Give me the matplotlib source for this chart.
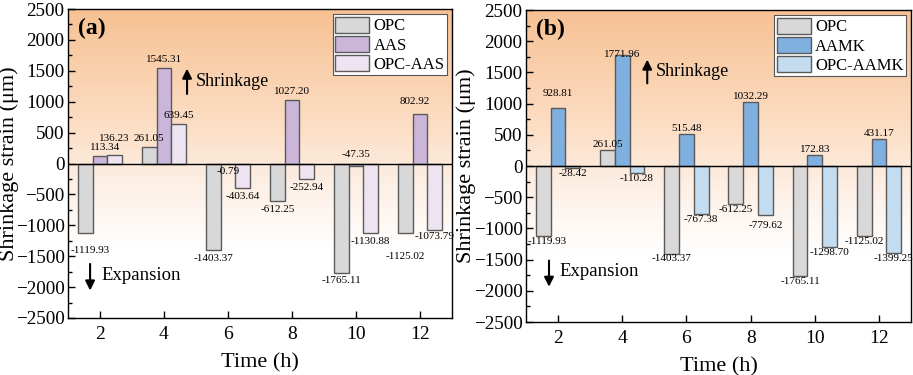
import numpy as np
import matplotlib
matplotlib.use("Agg")
import matplotlib.pyplot as plt
from matplotlib.colors import LinearSegmentedColormap

plt.rcParams['font.family'] = ['Liberation Serif', 'DejaVu Serif']
plt.rcParams['mathtext.fontset'] = 'stix'

# ---- data ----
times = [2, 4, 6, 8, 10, 12]
opc = [-1119.93, 261.05, -1403.37, -612.25, -1765.11, -1125.02]
aas = [113.34, 1545.31, -0.79, 1027.20, -47.35, 802.92]
opc_aas = [136.23, 639.45, -403.64, -252.94, -1130.88, -1073.79]
aamk = [928.81, 1771.96, 515.48, 1032.29, 172.83, 431.17]
opc_aamk = [-28.42, -110.28, -767.38, -779.62, -1298.70, -1399.25]

labels_a = ['OPC', 'AAS', 'OPC-AAS']
labels_b = ['OPC', 'AAMK', 'OPC-AAMK']
yticks = [-2500, -2000, -1500, -1000, -500, 0, 500, 1000, 1500, 2000, 2500]

colors_a = ['#d8d8d8', '#cbb6da', '#ede3f1']
colors_b = ['#d8d8d8', '#7fb0e0', '#c4dcf0']

# value-label nudges (points), one (dx, dy) per bar -- layout only
nudge_a = [
    [(3.5, -7), (0, 0), (0, 0), (0, 0), (0, 0), (0, -11)],
    [(3.5, 0), (0, 0), (0, 0), (0, 0), (0, 14), (-4, 3)],
    [(0, 6), (0, 0), (0, 0), (0, 0), (0, 0), (0, 1)],
]
nudge_b = [
    [(2.5, 0), (0, 0), (0, 0), (0, 0), (0, 0), (0, 0)],
    [(0, 6.5), (0, -3), (0, 0), (0, 0), (0, 0), (0, 0)],
    [(0, 0), (0, 0), (0, 0), (0, -4), (0, 0), (0, 0)],
]

fig = plt.figure(figsize=(9.13, 3.75), dpi=100)
ax_a = fig.add_axes([0.0745, 0.152, 0.4205, 0.824])
ax_b = fig.add_axes([0.576, 0.1413, 0.422, 0.832])

grad_cmap = LinearSegmentedColormap.from_list(
    'bg', [(0.0, '#ffffff'), (0.22, '#ffffff'), (0.45, '#fdeee3'),
           (0.6, '#fce0c8'), (1.0, '#f7c193')])

width = 0.46


def draw(ax, series, labels, colors, nudges, base, panel, shr, exp_, ylx):
    grad = np.linspace(0, 1, 256).reshape(-1, 1)
    ax.imshow(grad, extent=[1, 13, -2500, 2500], origin='lower',
              cmap=grad_cmap, aspect='auto', zorder=0)
    x = np.array(times, dtype=float)
    offsets = [-width, 0, width]
    for vals, lab, col, off, nud in zip(series, labels, colors, offsets,
                                        nudges):
        bars = ax.bar(x + off, vals, width=width, color=col,
                      edgecolor='#5a5a5a', linewidth=1.0, label=lab, zorder=2)
        for b, v, (dx, dy) in zip(bars, vals, nud):
            cx = b.get_x() + b.get_width() / 2
            if v >= 0:
                ax.annotate(f'{v:.2f}', (cx, v), xytext=(dx, base[0] + dy),
                            textcoords='offset points', ha='center',
                            va='bottom', fontsize=8, zorder=4)
            else:
                ax.annotate(f'{v:.2f}', (cx, v), xytext=(dx, -base[1] + dy),
                            textcoords='offset points', ha='center',
                            va='top', fontsize=8, zorder=4)
    ax.axhline(0, color='black', linewidth=1.0, zorder=3)
    ax.set_xlim(1, 13)
    ax.set_ylim(-2500, 2500)
    ax.set_xticks(times)
    ax.set_yticks(yticks)
    ax.set_yticks(np.arange(-2250, 2500, 500), minor=True)
    ax.tick_params(axis='x', direction='in', labelsize=14, length=5,
                   width=1, pad=6)
    ax.tick_params(axis='y', direction='in', labelsize=13.8, length=5,
                   width=1, pad=2.5)
    ax.tick_params(axis='y', which='minor', direction='in', length=3,
                   width=1)
    for s in ax.spines.values():
        s.set_linewidth(1.0)
        s.set_zorder(5)
    ax.set_xlabel('Time (h)', fontsize=16, labelpad=7)
    ax.set_ylabel('Shrinkage strain (μm)', fontsize=16)
    ax.yaxis.set_label_coords(ylx, 0.5)
    ax.text(1.3, 2190, panel, fontsize=17, fontweight='bold',
            va='center', ha='left', zorder=6)
    ax.annotate('', xy=(shr[0], shr[2]), xytext=(shr[0], shr[1]),
                arrowprops=dict(arrowstyle='-|>', color='black', lw=1.5,
                                mutation_scale=14), zorder=6)
    ax.text(shr[3], (shr[1] + shr[2]) / 2, 'Shrinkage', fontsize=13,
            va='center', ha='left', zorder=6)
    ax.annotate('', xy=(exp_[0], exp_[2]), xytext=(exp_[0], exp_[1]),
                arrowprops=dict(arrowstyle='-|>', color='black', lw=1.5,
                                mutation_scale=14), zorder=6)
    ax.text(exp_[3], (exp_[1] + exp_[2]) / 2 + 30, 'Expansion', fontsize=13.5,
            va='center', ha='left', zorder=6)
    leg = ax.legend(loc='upper right', fontsize=12, frameon=True,
                    fancybox=False, edgecolor='#555555', framealpha=1,
                    handlelength=2.05, handleheight=1.1, handletextpad=0.25,
                    labelspacing=0.1, borderpad=0.15, borderaxespad=0.3)
    leg.get_frame().set_linewidth(0.8)
    leg.set_zorder(7)


draw(ax_a, [opc, aas, opc_aas], labels_a, colors_a, nudge_a, (3, 2.5), '(a)',
     (4.72, 1080, 1580, 4.98), (1.69, -1580, -2100, 2.06), -0.128)
draw(ax_b, [opc, aamk, opc_aamk], labels_b, colors_b, nudge_b, (0.6, 0.6),
     '(b)', (4.78, 1280, 1750, 5.06), (1.72, -1470, -1980, 2.06), -0.13)

fig.savefig('out.png', dpi=100)
